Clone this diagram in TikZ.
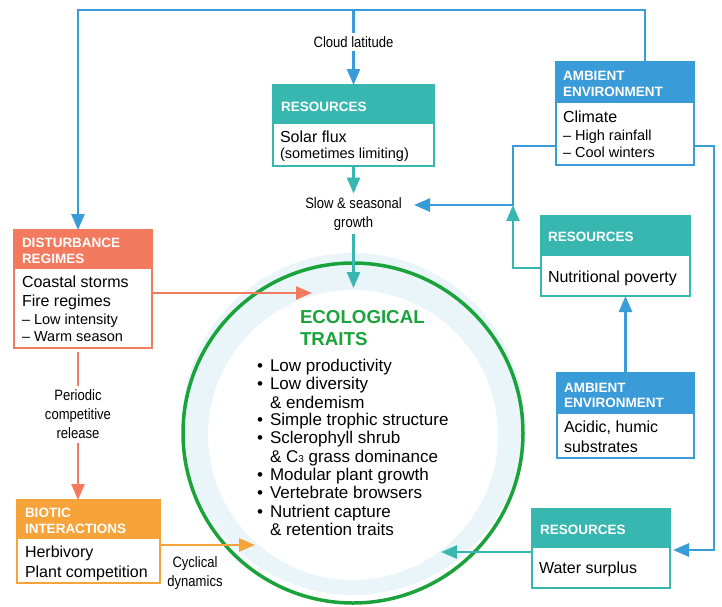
\documentclass[tikz,border=0pt]{standalone}
\usepackage{fontspec}
\setmainfont{Liberation Sans}
\newfontfamily\condfont[FakeStretch=0.87]{Liberation Sans}
\usetikzlibrary{arrows.meta,fit}
\definecolor{tealc}{HTML}{38B7B1}
\definecolor{bluec}{HTML}{3A9BD9}
\definecolor{coralc}{HTML}{F27B5F}
\definecolor{orangec}{HTML}{F6A43A}
\definecolor{greenc}{HTML}{1AA33A}
\definecolor{palec}{HTML}{EAF5F9}
\begin{document}
\begin{tikzpicture}[x=1pt,y=-1pt,
  every node/.style={inner sep=0pt, outer sep=0pt},
  conn/.style={line width=2.6pt, -{Triangle[length=16pt,width=13pt]}},
  plainline/.style={line width=2.6pt},
  bodybox/.style={draw=#1, line width=2pt, fill=white, inner sep=0pt},
  hdrbox/.style={fill=#1, inner sep=0pt},
  hdrtext/.style={text=white, font=\fontsize{13.5}{15}\selectfont\bfseries, anchor=base west},
  bodytext/.style={font=\fontsize{16}{18}\selectfont, anchor=base west},
  subtext/.style={font=\fontsize{14.5}{17}\selectfont, anchor=base west},
  lbl/.style={font=\condfont\fontsize{15}{19}\selectfont, align=center, inner sep=4pt},
  trait/.style={font=\fontsize{17}{18}\selectfont, anchor=base west},
  ttl/.style={text=greenc, font=\fontsize{18.7}{20}\selectfont\bfseries, anchor=base west},
]
\useasboundingbox (0,0) rectangle (722,606);

% ring behind the central circle
\fill[palec, even odd rule] (353,424) circle[radius=171pt] (353,435) circle[radius=145pt];
\node[circle, draw=greenc, line width=3.5pt, minimum size=340pt] (eco) at (353,433) {};

% boxes: body outline plus coloured header band
\node[bodybox=tealc, fit={(273,85) (434,166)}] (res1) {};
\node[hdrbox=tealc, fit={(272,84) (435,124)}] (res1h) {};
\node[bodybox=bluec, fit={(556,62) (694,165)}] (amb1) {};
\node[hdrbox=bluec, fit={(555,61) (695,103)}] (amb1h) {};
\node[bodybox=coralc, fit={(14,230) (152,348)}] (dist) {};
\node[hdrbox=coralc, fit={(13,229) (153,269)}] (disth) {};
\node[bodybox=orangec, fit={(17,500) (160,583)}] (biot) {};
\node[hdrbox=orangec, fit={(16,499) (161,539)}] (bioth) {};
\node[bodybox=tealc, fit={(541,216) (690,296)}] (nut) {};
\node[hdrbox=tealc, fit={(540,215) (691,256)}] (nuth) {};
\node[bodybox=bluec, fit={(557,373) (694,458)}] (amb2) {};
\node[hdrbox=bluec, fit={(556,372) (695,414)}] (amb2h) {};
\node[bodybox=tealc, fit={(532,509) (670,588)}] (water) {};
\node[hdrbox=tealc, fit={(531,508) (671,548)}] (waterh) {};

% box texts
\node[hdrtext] (res1t) at (281,111) {RESOURCES};
\node[bodytext] (res1a) at (280,142) {Solar flux};
\node[subtext] (res1b) at (280,158) {(sometimes limiting)};

\node[hdrtext] (amb1t) at (563,80) {AMBIENT};
\node[hdrtext] (amb1u) at (563,96) {ENVIRONMENT};
\node[bodytext] (amb1a) at (563,122) {Climate};
\node[subtext] (amb1b) at (563,140) {– High rainfall};
\node[subtext] (amb1c) at (563,157) {– Cool winters};

\node[hdrtext] (distt) at (22,247) {DISTURBANCE};
\node[hdrtext] (distu) at (22,263) {REGIMES};
\node[bodytext] (dista) at (22,287) {Coastal storms};
\node[bodytext] (distb) at (22,306) {Fire regimes};
\node[subtext] (distc) at (22,324) {– Low intensity};
\node[subtext] (distd) at (22,341) {– Warm season};

\node[hdrtext] (biott) at (25,517) {BIOTIC};
\node[hdrtext] (biotu) at (25,533) {INTERACTIONS};
\node[bodytext] (biota) at (25,557) {Herbivory};
\node[bodytext] (biotb) at (25,577) {Plant competition};

\node[hdrtext] (nutt) at (548,241) {RESOURCES};
\node[bodytext] (nuta) at (548,282) {Nutritional poverty};

\node[hdrtext] (amb2t) at (564,392) {AMBIENT};
\node[hdrtext] (amb2u) at (564,407) {ENVIRONMENT};
\node[bodytext] (amb2a) at (564,432) {Acidic, humic};
\node[bodytext] (amb2b) at (564,452) {substrates};

\node[hdrtext] (watert) at (540,534) {RESOURCES};
\node[bodytext] (watera) at (539,573) {Water surplus};

% free labels
\node[lbl] (slow) at (353.5,214) {Slow \& seasonal\\growth};
\node[lbl] (periodic) at (78,414) {Periodic\\competitive\\release};
\node[lbl] (cyc) at (195,573) {Cyclical\\dynamics};

% junction points
\coordinate (tl) at (78,10);
\coordinate (tr) at (645,10);
\coordinate (tc) at (353.5,10);
\coordinate (jA) at (513,146);
\coordinate (jn) at (513,205);
\coordinate (slowin) at (414,205);
\coordinate (jB) at (714,146);
\coordinate (jC) at (714,550);
\coordinate (jD) at (513,268);
\coordinate (wIn) at (441,552);
\coordinate (ecoIn) at (353.5,288);
\coordinate (dIn) at (312,293);
\coordinate (bIn) at (255,545);

% climate links (blue)
\draw[conn, bluec] (amb1.north -| tr) -- (tr) -- (tl) -- (dist.north -| tl);
\draw[conn, bluec] (tc) -- (res1.north -| tc);
\node[lbl, fill=white, inner sep=3pt] (cloud) at (353.5,42) {Cloud latitude};
\draw[conn, bluec] (jA -| amb1.west) -- (jA) -- (jn) -- (slowin);
\draw[conn, bluec] (jB -| amb1.east) -- (jB) -- (jC) -- ([xshift=3pt]jC -| water.east);
\draw[conn, bluec] (amb2.north) -- (nut.south -| amb2.north);

% resource links (teal)
\draw[conn, tealc] (jD -| nut.west) -- (jD) -- (jn);
\draw[conn, tealc] (res1.south) -- (slow.north);
\draw[conn, tealc] (slow.south) -- (ecoIn);
\draw[conn, tealc] (wIn -| water.west) -- (wIn);

% disturbance and biotic links
\draw[conn, coralc] (dIn -| dist.east) -- (dIn);
\draw[plainline, coralc, shorten <=4pt] (periodic.north |- dist.south) -- (periodic.north);
\draw[conn, coralc] (periodic.south) -- (periodic.south |- biot.north);
\draw[conn, orangec] (bIn -| biot.east) -- (bIn);

% central trait list
\node[ttl] (ttl1) at (300,323) {ECOLOGICAL};
\node[ttl] (ttl2) at (300,345) {TRAITS};
\node[trait] (b1) at (257,371) {•};
\node[trait] (t1) at (270,371) {Low productivity};
\node[trait] (b2) at (257,389) {•};
\node[trait] (t2) at (270,389) {Low diversity};
\node[trait] (t3) at (270,408) {\& endemism};
\node[trait] (b4) at (257,425) {•};
\node[trait] (t4) at (270,425) {Simple trophic structure};
\node[trait] (b5) at (257,443) {•};
\node[trait] (t5) at (270,443) {Sclerophyll shrub};
\node[trait] (t6) at (270,462) {\& C{\fontsize{10}{10}\selectfont 3} grass dominance};
\node[trait] (b7) at (257,480) {•};
\node[trait] (t7) at (270,480) {Modular plant growth};
\node[trait] (b8) at (257,498) {•};
\node[trait] (t8) at (270,498) {Vertebrate browsers};
\node[trait] (b9) at (257,517) {•};
\node[trait] (t9) at (270,517) {Nutrient capture};
\node[trait] (t10) at (270,535) {\& retention traits};
\end{tikzpicture}
\end{document}
